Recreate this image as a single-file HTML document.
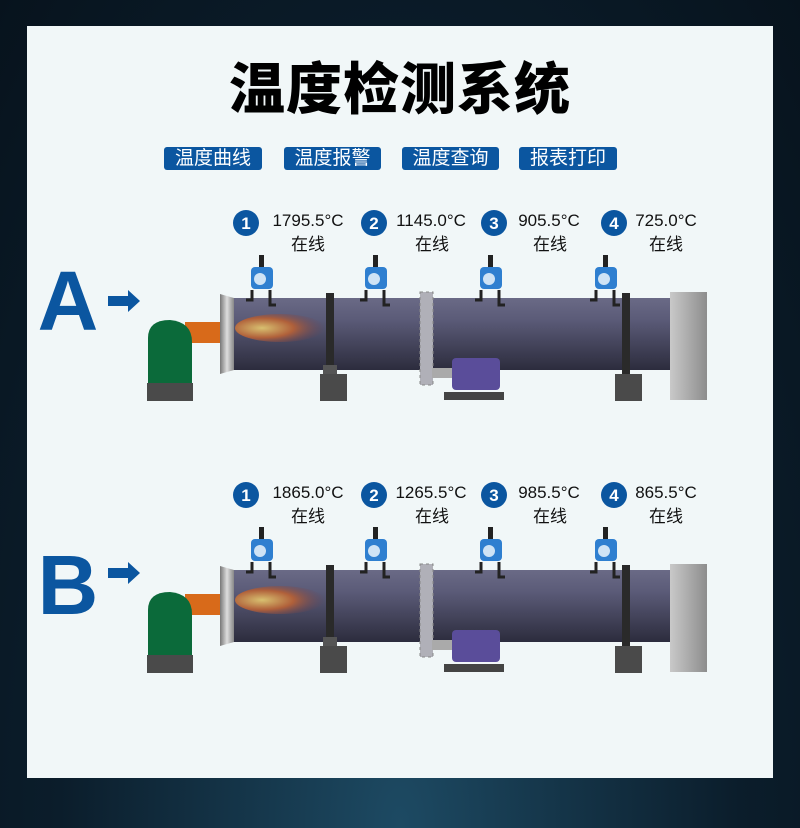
<!DOCTYPE html>
<html><head><meta charset="utf-8"><style>
body{margin:0;width:800px;height:828px;background:radial-gradient(ellipse at 50% 100%,#1d4a63 0%,#0b1d2b 60%,#07131d 100%);position:relative;overflow:hidden;font-family:"Liberation Sans","Noto Sans CJK SC",sans-serif}
.panel{position:absolute;left:27px;top:26px;width:746px;height:752px;background:#f1f7f8}
.t{position:absolute;left:0;width:800px;top:58px;text-align:center;font-size:56px;font-weight:900;color:#000;letter-spacing:1px;line-height:64px}
.btn{position:absolute;top:147px;height:23px;width:97px;background:#0b56a0;color:#fff;border-radius:3px;font-size:19px;line-height:23px;text-align:center}
</style></head><body>
<div class="panel"></div>
<div class="t">温度检测系统</div>
<div class="btn" style="left:164px;width:98px">温度曲线</div>
<div class="btn" style="left:284px">温度报警</div>
<div class="btn" style="left:402px">温度查询</div>
<div class="btn" style="left:519px;width:98px">报表打印</div>
<svg width="800" height="828" style="position:absolute;left:0;top:0" font-family="Liberation Sans, Noto Sans CJK SC, sans-serif">
<defs>
<linearGradient id="tube" x1="0" y1="0" x2="0" y2="1"><stop offset="0" stop-color="#6a6a86"/><stop offset="0.3" stop-color="#5b5b78"/><stop offset="1" stop-color="#2c2c3d"/></linearGradient>
<linearGradient id="cap" x1="0" y1="0" x2="1" y2="0"><stop offset="0" stop-color="#c9c9c9"/><stop offset="1" stop-color="#8d8d8d"/></linearGradient>
<linearGradient id="fl" x1="0" y1="0" x2="1" y2="0"><stop offset="0" stop-color="#777"/><stop offset="0.5" stop-color="#ddd"/><stop offset="1" stop-color="#888"/></linearGradient>
<radialGradient id="fire" cx="0.3" cy="0.5" r="0.7"><stop offset="0" stop-color="#d8c070"/><stop offset="0.5" stop-color="#b0603a"/><stop offset="1" stop-color="#6a4050" stop-opacity="0"/></radialGradient>
<g id="sensor">
<rect x="-3" y="-45" width="5" height="16" fill="#222"/>
<rect x="-11" y="-33" width="22" height="22" rx="4" fill="#2f7fd0"/>
<circle cx="-2" cy="-21" r="6" fill="#cfe3f5"/>
<path d="M-10,-10 L-10,0 L-16,0 M8,-10 L8,5 L14,5" stroke="#222" stroke-width="3" fill="none"/>
</g>
<g id="kiln">
<rect x="185" y="322" width="42" height="21" fill="#d86a1a"/>
<path d="M148,383 L148,338 Q148,320 170,320 Q192,322 192,342 L192,383 Z" fill="#0b6a3a"/>
<rect x="147" y="383" width="46" height="18" fill="#4a4a4a"/>
<rect x="233" y="298" width="440" height="72" fill="url(#tube)"/>
<path d="M220,294 L234,298 L234,370 L220,374 Z" fill="url(#fl)"/>
<ellipse cx="280" cy="328" rx="45" ry="14" fill="url(#fire)"/>
<rect x="326" y="293" width="8" height="82" fill="#2a2a2a"/>
<rect x="323" y="365" width="14" height="10" fill="#555"/>
<rect x="320" y="374" width="27" height="27" fill="#4a4a4a"/>
<rect x="622" y="293" width="8" height="82" fill="#2a2a2a"/>
<rect x="615" y="374" width="27" height="27" fill="#4a4a4a"/>
<rect x="420" y="292" width="13" height="93" fill="#b0b0b8" stroke="#888" stroke-dasharray="3,3"/>
<rect x="432" y="368" width="22" height="10" fill="#aaa"/>
<rect x="452" y="358" width="48" height="32" rx="4" fill="#5a4d9a"/>
<rect x="444" y="392" width="60" height="8" fill="#444"/>
<rect x="670" y="292" width="37" height="108" fill="url(#cap)"/>
<use href="#sensor" x="262" y="300"/>
<use href="#sensor" x="376" y="300"/>
<use href="#sensor" x="491" y="300"/>
<use href="#sensor" x="606" y="300"/>
<path d="M108,296 L128,296 L128,290 L140,301 L128,312 L128,306 L108,306 Z" fill="#0b56a0"/>
<g fill="#0b56a0"><circle cx="246" cy="223" r="13"/><circle cx="374" cy="223" r="13"/><circle cx="494" cy="223" r="13"/><circle cx="614" cy="223" r="13"/></g>
<g fill="#fff" font-weight="bold" font-size="17" text-anchor="middle"><text x="246" y="229">1</text><text x="374" y="229">2</text><text x="494" y="229">3</text><text x="614" y="229">4</text></g>
<g fill="#111" font-size="17" text-anchor="middle"><text x="308" y="250">在线</text><text x="432" y="250">在线</text><text x="550" y="250">在线</text><text x="666" y="250">在线</text></g>
</g>
</defs>
<use href="#kiln"/>
<use href="#kiln" y="272"/>
<g fill="#111" font-size="17" text-anchor="middle">
<text x="308" y="226">1795.5°C</text><text x="431" y="226">1145.0°C</text><text x="549" y="226">905.5°C</text><text x="666" y="226">725.0°C</text>
<text x="308" y="498">1865.0°C</text><text x="431" y="498">1265.5°C</text><text x="549" y="498">985.5°C</text><text x="666" y="498">865.5°C</text></g>
<text x="68" y="330" font-size="84" font-weight="bold" fill="#0b56a0" text-anchor="middle">A</text>
<text x="68" y="614" font-size="84" font-weight="bold" fill="#0b56a0" text-anchor="middle">B</text>
</svg>
</body></html>
